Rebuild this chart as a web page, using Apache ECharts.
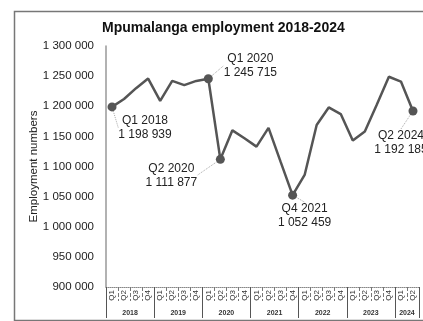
<!DOCTYPE html>
<html>
<head>
<meta charset="utf-8">
<script src="https://cdn.jsdelivr.net/npm/echarts@6/dist/echarts.min.js"></script>
<style>
  html, body { margin: 0; padding: 0; background: #fff; }
  #chart { width: 423px; height: 321px; }
</style>
</head>
<body>
<div id="chart"></div>
<script>
// Quarterly employment in Mpumalanga, Q1 2018 – Q2 2024
const quarters = ['Q1','Q2','Q3','Q4','Q1','Q2','Q3','Q4','Q1','Q2','Q3','Q4','Q1','Q2','Q3','Q4',
                  'Q1','Q2','Q3','Q4','Q1','Q2','Q3','Q4','Q1','Q2'];
const quarterYears = [2018,2018,2018,2018,2019,2019,2019,2019,2020,2020,2020,2020,2021,2021,2021,2021,
                      2022,2022,2022,2022,2023,2023,2023,2023,2024,2024];
const employment = [1198939, 1212000, 1230000, 1246000, 1209000, 1242000, 1235000, 1242000,
                    1245715, 1111877, 1160000, 1147000, 1133000, 1164000, 1108000, 1052459,
                    1086000, 1169000, 1198000, 1187000, 1143000, 1158000, 1203000, 1249000,
                    1241000, 1192185];

// Year groups on the lower axis: boundaries and label positions (in quarter units)
const yearLabels = ['2018','2019','2020','2021','2022','2023','2024'];
const yearBoundaries = [0, 4, 8, 12, 16, 20, 24, 26];
const yearCentres = [2, 6, 10, 14, 18, 22, 25];

// Annotated quarters and where their callout text sits relative to the point
const callouts = { 0: [33, 21], 8: [42, -13], 9: [-49, 16], 15: [12, 21], 25: [-12, 32] };

const fmt = v => String(v).replace(/\B(?=(\d{3})+(?!\d))/g, ' ');
const FONT = '"Liberation Sans", Arial, sans-serif';

const chart = echarts.init(document.getElementById('chart'), null, { renderer: 'canvas' });

const seriesData = employment.map((v, i) => {
  if (callouts[i]) {
    return { value: v, symbolSize: 9, label: { show: true } };
  }
  return { value: v, symbolSize: 0 };
});

chart.setOption({
  animation: false,
  backgroundColor: '#fff',
  textStyle: { fontFamily: FONT },
  graphic: [{
    type: 'rect',
    left: 12, top: 9,
    shape: { width: 440, height: 309 },
    style: { fill: 'none', stroke: '#777', lineWidth: 1.5 },
    silent: true, z: -1
  }],
  title: {
    text: 'Mpumalanga employment 2018-2024',
    left: 97, top: 16,
    textStyle: { fontFamily: FONT, fontSize: 14, fontWeight: 'bold', color: '#111' }
  },
  grid: { left: 106, right: 4, top: 46, bottom: 34, containLabel: false },
  xAxis: [{
    type: 'category',
    data: quarters,
    boundaryGap: true,
    axisLine: { show: true, lineStyle: { color: '#888', type: 'dotted', width: 1 } },
    axisTick: { show: true, interval: 0, length: 14, lineStyle: { color: '#777', type: 'dashed', width: 1 } },
    axisLabel: { interval: 0, rotate: 90, fontSize: 8, color: '#333', margin: 3, fontFamily: FONT },
    splitLine: { show: false }
  }, {
    type: 'value',
    position: 'bottom',
    min: 0, max: 26,
    axisLine: { show: false },
    axisTick: { show: true, customValues: yearBoundaries, length: 31, lineStyle: { color: '#555', width: 1 } },
    axisLabel: {
      customValues: yearCentres,
      formatter: v => yearLabels[yearCentres.indexOf(v)],
      fontSize: 7, fontWeight: 'bold', color: '#333', margin: 23, fontFamily: FONT
    },
    splitLine: { show: false }
  }],
  yAxis: {
    type: 'value',
    min: 900000, max: 1300000, interval: 50000,
    name: 'Employment numbers',
    nameLocation: 'middle',
    nameRotate: 90,
    nameGap: 66,
    nameMoveOverlap: false,
    nameTextStyle: { fontSize: 11.5, color: '#222', fontFamily: FONT },
    axisLine: { show: true, lineStyle: { color: '#999', width: 1.5 } },
    axisTick: { show: false },
    axisLabel: { formatter: fmt, fontSize: 11.5, color: '#222', margin: 12, fontFamily: FONT },
    splitLine: { show: false }
  },
  series: [{
    type: 'line',
    xAxisIndex: 0,
    data: seriesData,
    symbol: 'circle',
    showSymbol: true,
    showAllSymbol: true,
    itemStyle: { color: '#555' },
    lineStyle: { color: '#555', width: 2.5 },
    label: {
      show: false,
      position: 'inside',
      formatter: p => quarters[p.dataIndex] + ' ' + quarterYears[p.dataIndex] + '\n' + fmt(p.value),
      fontSize: 12, lineHeight: 14, color: '#222', align: 'center', fontFamily: FONT
    },
    labelLine: { show: true, lineStyle: { color: '#aaa', type: 'dotted', width: 1 } },
    labelLayout: p => {
      const o = callouts[p.dataIndex];
      return o ? { dx: o[0], dy: o[1] } : {};
    },
    emphasis: { disabled: true }
  }]
});
</script>
</body>
</html>
